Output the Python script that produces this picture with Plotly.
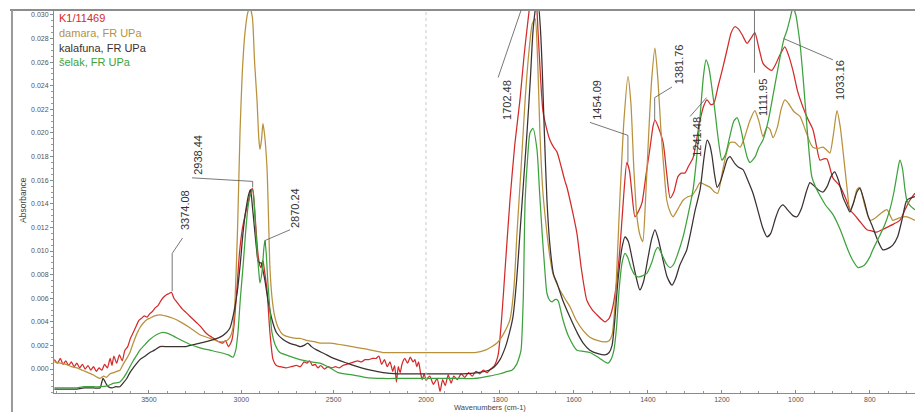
import plotly.graph_objects as go

# ---------------- data (wavenumber cm-1, absorbance) ----------------
k1_wn = [4012,3995,3980,3965,3950,3935,3920,3905,3890,3875,3860,3845,3830,3815,3800,3785,3770,3755,3740,3725,
         3710,3700,3690,3675,3660,3645,3630,3615,3600,3585,3570,3555,3540,3525,3510,3495,3480,3465,3450,3435,
         3420,3405,3390,3378,3365,3350,3335,3320,3300,3280,3260,3240,3220,3200,3180,3160,3140,3120,3100,3085,
         3070,3060,3050,3040,3025,3010,2995,2980,2965,2950,2940,2930,2920,2910,2900,2893,2883,2875,2861,2845,
         2828,2810,2790,2760,2730,2700,2680,2660,2645,2630,2615,2600,2585,2570,2550,2530,2510,2490,2470,2450,
         2430,2410,2390,2370,2350,2330,2310,2290,2270,2255,2240,2225,2210,2195,2180,2170,2160,2150,2140,2130,
         2115,2100,2085,2070,2060,2050,2040,2030,2020,2010,2000,
         1990,1980,1970,1962,1955,1948,1940,1932,1925,1915,1905,1895,1885,1875,1865,1855,1845,1835,1825,1815,
         1805,1795,1785,1773,1760,1746,1735,1724,1712,1704,1697,1690,1684,1675,1665,1655,1646,1635,1625,1619,
         1605,1592,1580,1565,1550,1538,1525,1516,1505,1497,1486,1476,1466,1457,1450,1443,1435,1425,1416,1405,
         1395,1386,1381,1372,1359,1350,1340,1330,1319,1310,1300,1290,1278,1268,1259,1248,1240,1230,1222,1210,
         1197,1185,1175,1165,1155,1145,1132,1120,1111,1100,1089,1077,1065,1055,1045,1030,1020,1008,995,981,
         968,954,945,935,925,916,900,881,862,854,840,827,808,795,781,767,754,735,719,705,692,678]
k1_abs = [0.0008,0.0005,0.0009,0.0004,0.0007,0.0003,0.0006,0.0002,0.0005,0.0001,0.0004,0.0000,0.0003,-0.0001,0.0002,-0.0002,0.0001,-0.0001,0.0004,0.0001,
          0.0009,0.0003,0.0011,0.0005,0.0012,0.0007,0.0016,0.0019,0.0026,0.0031,0.0036,0.0041,0.0043,0.0045,0.0044,0.0047,0.0049,0.0052,0.0054,0.0058,
          0.0061,0.0063,0.0064,0.0065,0.0060,0.0057,0.0054,0.0051,0.0048,0.0045,0.0042,0.0039,0.0036,0.0032,0.0029,0.0027,0.0025,0.0023,0.0022,0.0024,
          0.0019,0.0021,0.0025,0.0036,0.0065,0.0098,0.0118,0.0130,0.0140,0.0150,0.0153,0.0140,0.0118,0.0098,0.0088,0.0086,0.0092,0.0084,0.0067,0.0031,
          0.0008,0.0003,0.0002,0.0001,0.0002,0.0003,0.0002,0.0006,0.0005,0.0007,0.0003,0.0004,0.0001,0.0003,0.0000,0.0002,0.0001,0.0002,0.0001,0.0003,
          0.0004,0.0005,0.0006,0.0007,0.0006,0.0008,0.0008,0.0009,0.0009,0.0011,0.0004,0.0008,0.0002,0.0006,-0.0002,0.0003,-0.0011,0.0002,-0.0003,0.0004,
          0.0009,0.0005,0.0010,0.0006,0.0008,0.0002,0.0006,-0.0003,-0.0009,-0.0004,-0.0010,
          -0.0006,-0.0013,-0.0008,-0.0019,-0.0009,-0.0014,-0.0005,-0.0012,-0.0006,-0.0009,-0.0004,-0.0007,-0.0003,-0.0006,-0.0002,-0.0004,-0.0001,-0.0003,0.0000,0.0003,
          0.0012,0.0045,0.0090,0.0143,0.0190,0.0228,0.0265,0.0296,0.0322,0.0318,0.0285,0.0245,0.0219,0.0205,0.0194,0.0188,0.0184,0.0172,0.0160,0.0154,
          0.0135,0.0115,0.0085,0.0058,0.0050,0.0046,0.0042,0.0040,0.0043,0.0050,0.0070,0.0101,0.0145,0.0175,0.0168,0.0148,0.0129,0.0134,0.0141,0.0165,
          0.0186,0.0206,0.0211,0.0205,0.0192,0.0168,0.0145,0.0150,0.0163,0.0166,0.0166,0.0172,0.0179,0.0195,0.0211,0.0224,0.0228,0.0224,0.0225,0.0240,
          0.0256,0.0272,0.0285,0.0290,0.0288,0.0283,0.0276,0.0281,0.0285,0.0272,0.0259,0.0255,0.0253,0.0258,0.0265,0.0273,0.0266,0.0253,0.0235,0.0222,
          0.0212,0.0203,0.0190,0.0177,0.0178,0.0178,0.0162,0.0155,0.0142,0.0135,0.0130,0.0125,0.0118,0.0117,0.0116,0.0118,0.0120,0.0123,0.0126,0.0135,0.0143,0.0149]

damara_wn = [4012,3980,3950,3920,3890,3860,3830,3800,3780,3765,3745,3730,3710,3690,3675,3657,3640,3620,3603,3585,
             3565,3549,3530,3510,3495,3470,3440,3410,3370,3330,3278,3224,3170,3115,3080,3061,3045,3034,3020,3007,
             2995,2980,2965,2953,2940,2928,2915,2905,2899,2890,2883,2875,2861,2852,2845,2832,2818,2800,2774,2740,
             2700,2682,2640,2600,2574,2520,2476,2400,2330,2233,2150,2108,2050,2000,
             1950,1900,1868,1840,1808,1790,1773,1762,1754,1743,1732,1722,1713,1705,1698,1692,1684,1673,1665,1657,
             1640,1625,1611,1595,1576,1557,1535,1516,1505,1497,1488,1476,1465,1454,1446,1438,1430,1422,1414,1407,
             1400,1390,1381,1373,1365,1357,1349,1340,1332,1320,1305,1292,1281,1270,1259,1245,1232,1220,1211,1200,
             1190,1178,1165,1151,1140,1125,1111,1100,1089,1078,1070,1062,1050,1040,1030,1020,1005,989,975,962,
             954,940,927,915,908,898,889,880,873,862,854,845,835,827,815,800,785,770,754,745,738,720,700,678]
damara_abs = [0.0006,0.0005,0.0004,0.0002,0.0001,-0.0001,-0.0003,-0.0005,-0.0007,-0.0008,-0.0006,-0.0007,-0.0004,-0.0003,-0.0002,-0.0001,0.0004,0.0009,0.0014,0.0022,
              0.0030,0.0035,0.0039,0.0042,0.0043,0.0045,0.0046,0.0045,0.0043,0.0040,0.0035,0.0029,0.0026,0.0023,0.0024,0.0027,0.0035,0.0058,0.0120,0.0200,
              0.0250,0.0285,0.0302,0.0306,0.0298,0.0260,0.0228,0.0195,0.0186,0.0195,0.0208,0.0200,0.0171,0.0125,0.0086,0.0058,0.0044,0.0035,0.0029,0.0027,
              0.0026,0.0026,0.0024,0.0023,0.0022,0.0022,0.0021,0.0019,0.0017,0.0014,0.0014,0.0014,0.0014,0.0014,
              0.0014,0.0014,0.0014,0.0016,0.0022,0.0030,0.0042,0.0070,0.0115,0.0170,0.0228,0.0268,0.0292,0.0297,0.0260,0.0200,0.0150,0.0115,0.0095,0.0081,
              0.0068,0.0060,0.0053,0.0042,0.0033,0.0027,0.0024,0.0023,0.0024,0.0029,0.0060,0.0143,0.0210,0.0248,0.0225,0.0169,0.0130,0.0114,0.0108,0.0140,
              0.0186,0.0245,0.0272,0.0245,0.0203,0.0170,0.0143,0.0133,0.0129,0.0135,0.0143,0.0146,0.0147,0.0152,0.0158,0.0156,0.0154,0.0150,0.0149,0.0165,
              0.0180,0.0192,0.0192,0.0188,0.0195,0.0210,0.0219,0.0210,0.0197,0.0205,0.0203,0.0196,0.0205,0.0220,0.0228,0.0225,0.0218,0.0214,0.0203,0.0192,
              0.0188,0.0187,0.0188,0.0185,0.0183,0.0200,0.0219,0.0205,0.0186,0.0154,0.0135,0.0140,0.0152,0.0154,0.0140,0.0126,0.0128,0.0132,0.0135,0.0130,0.0126,0.0128,0.0129,0.0126]

kalafuna_wn = [4012,3950,3900,3850,3800,3765,3755,3749,3740,3730,3720,3700,3680,3657,3640,3620,3603,3585,3565,3549,
               3520,3495,3470,3440,3400,3348,3300,3278,3224,3170,3115,3080,3061,3040,3023,3005,2991,2975,2960,2950,
               2940,2926,2915,2910,2900,2893,2882,2872,2855,2834,2810,2774,2740,2700,2680,2660,2640,2620,2590,2550,
               2500,2428,2350,2300,2233,2150,2100,2050,2000,
               1950,1900,1860,1830,1815,1800,1785,1775,1765,1755,1746,1736,1727,1718,1711,1704,1697,1691,1686,1680,
               1673,1665,1655,1646,1630,1611,1590,1575,1557,1535,1516,1505,1497,1490,1481,1470,1462,1453,1443,1432,
               1422,1412,1400,1390,1381,1372,1359,1348,1335,1325,1314,1305,1295,1285,1272,1259,1248,1240,1233,1227,
               1220,1213,1205,1195,1185,1178,1165,1155,1143,1130,1116,1105,1090,1078,1068,1055,1045,1035,1020,1008,
               997,985,972,962,950,940,927,915,905,895,885,872,862,854,845,835,827,815,805,792,780,765,752,738,725,712,700,678]
kalafuna_abs = [-0.0017,-0.0017,-0.0017,-0.0016,-0.0016,-0.0016,-0.0011,-0.0008,-0.0010,-0.0013,-0.0015,-0.0016,-0.0015,-0.0015,-0.0012,-0.0008,-0.0003,0.0001,0.0005,0.0008,
                0.0011,0.0014,0.0016,0.0019,0.0019,0.0019,0.0019,0.0020,0.0022,0.0024,0.0027,0.0031,0.0035,0.0048,0.0064,0.0090,0.0115,0.0135,0.0148,0.0152,
                0.0138,0.0115,0.0098,0.0092,0.0090,0.0090,0.0083,0.0075,0.0058,0.0042,0.0031,0.0025,0.0022,0.0020,0.0019,0.0020,0.0022,0.0019,0.0016,0.0013,
                0.0009,0.0005,0.0001,-0.0001,-0.0003,-0.0004,-0.0004,-0.0004,-0.0004,
                -0.0004,-0.0004,-0.0003,-0.0001,0.0002,0.0008,0.0019,0.0030,0.0044,0.0075,0.0115,0.0160,0.0200,0.0245,0.0285,0.0305,0.0310,0.0290,0.0256,0.0200,
                0.0143,0.0105,0.0080,0.0073,0.0058,0.0044,0.0030,0.0022,0.0016,0.0013,0.0012,0.0014,0.0020,0.0040,0.0075,0.0103,0.0112,0.0108,0.0094,0.0078,
                0.0067,0.0074,0.0094,0.0110,0.0118,0.0110,0.0092,0.0078,0.0071,0.0077,0.0088,0.0094,0.0101,0.0115,0.0135,0.0152,0.0180,0.0194,0.0190,0.0181,
                0.0165,0.0154,0.0158,0.0168,0.0178,0.0180,0.0174,0.0171,0.0169,0.0160,0.0149,0.0137,0.0120,0.0112,0.0115,0.0128,0.0136,0.0139,0.0134,0.0130,
                0.0129,0.0136,0.0150,0.0158,0.0155,0.0152,0.0150,0.0155,0.0163,0.0167,0.0160,0.0145,0.0138,0.0133,0.0140,0.0150,0.0153,0.0142,0.0130,0.0120,0.0110,0.0101,0.0102,0.0105,0.0112,0.0128,0.0143,0.0146]

selak_wn = [4012,3950,3900,3850,3800,3765,3720,3690,3657,3640,3620,3603,3585,3565,3549,3520,3495,3460,3424,3380,
            3332,3280,3224,3170,3115,3070,3045,3030,3018,3005,2991,2977,2964,2950,2937,2926,2915,2905,2899,2888,
            2878,2872,2865,2856,2845,2834,2815,2791,2740,2682,2620,2574,2520,2476,2400,2330,2233,2150,2100,2000,
            1950,1900,1868,1830,1800,1780,1768,1755,1748,1743,1737,1732,1725,1719,1711,1700,1693,1686,1679,1673,
            1665,1659,1650,1643,1636,1630,1615,1592,1575,1557,1540,1530,1516,1508,1500,1492,1485,1478,1470,1462,
            1454,1446,1436,1427,1415,1403,1390,1380,1373,1362,1350,1340,1330,1320,1305,1292,1278,1268,1259,1250,
            1243,1235,1227,1219,1210,1200,1190,1178,1168,1159,1150,1140,1130,1124,1110,1100,1089,1075,1060,1043,
            1032,1024,1015,1008,1000,995,989,980,970,957,945,935,920,900,880,862,848,832,815,800,792,775,760,746,
            735,725,719,712,705,700,690,678]
selak_abs = [-0.0016,-0.0016,-0.0016,-0.0015,-0.0015,-0.0015,-0.0014,-0.0012,-0.0011,-0.0008,-0.0003,0.0002,0.0007,0.0012,0.0016,0.0021,0.0025,0.0029,0.0031,0.0029,
             0.0025,0.0021,0.0018,0.0016,0.0014,0.0012,0.0010,0.0016,0.0031,0.0060,0.0086,0.0115,0.0137,0.0148,0.0152,0.0128,0.0101,0.0082,0.0073,0.0082,
             0.0102,0.0109,0.0098,0.0073,0.0050,0.0031,0.0020,0.0014,0.0011,0.0008,0.0006,0.0005,0.0001,-0.0003,-0.0005,-0.0007,-0.0008,-0.0008,-0.0008,-0.0008,
             -0.0008,-0.0008,-0.0008,-0.0006,-0.0004,-0.0002,-0.0001,0.0004,0.0010,0.0016,0.0060,0.0143,0.0180,0.0200,0.0204,0.0186,0.0150,0.0115,0.0085,0.0064,
             0.0058,0.0057,0.0059,0.0058,0.0050,0.0042,0.0028,0.0016,0.0015,0.0014,0.0011,0.0009,0.0006,0.0005,0.0008,0.0016,0.0035,0.0067,0.0090,0.0098,
             0.0094,0.0086,0.0080,0.0078,0.0079,0.0081,0.0090,0.0100,0.0103,0.0097,0.0089,0.0086,0.0089,0.0097,0.0112,0.0130,0.0152,0.0180,0.0214,0.0248,
             0.0262,0.0255,0.0238,0.0219,0.0195,0.0177,0.0182,0.0198,0.0210,0.0213,0.0205,0.0190,0.0178,0.0175,0.0180,0.0188,0.0194,0.0210,0.0235,0.0264,
             0.0280,0.0287,0.0298,0.0306,0.0300,0.0290,0.0276,0.0245,0.0205,0.0163,0.0153,0.0147,0.0139,0.0131,0.0118,0.0103,0.0093,0.0086,0.0088,0.0095,0.0101,0.0112,0.0122,0.0135,
             0.0150,0.0168,0.0177,0.0170,0.0152,0.0143,0.0138,0.0135]

series_names = ["K1/11469", "damara, FR UPa", "kalafuna, FR UPa", "šelak, FR UPa"]
series_colors = ["#d32b2b", "#b8913c", "#3b3131", "#3da23d"]

peak_wn = [3374.08, 2938.44, 2870.24, 1702.48, 1454.09, 1381.76, 1241.48, 1111.95, 1033.16]
peak_labels = ["3374.08", "2938.44", "2870.24", "1702.48", "1454.09", "1381.76", "1241.48", "1111.95", "1033.16"]

y_ticks = [0.000, 0.002, 0.004, 0.006, 0.008, 0.010, 0.012, 0.014, 0.016, 0.018, 0.020,
           0.022, 0.024, 0.026, 0.028, 0.030]
left_ticks = [3500, 3000, 2500]
right_ticks = [2000, 1800, 1600, 1400, 1200, 1000, 800]

# ---------------- figure ----------------
BREAK = 2000
FONT = "Arial, Liberation Sans, sans-serif"
fig = go.Figure()
series = [(k1_wn, k1_abs), (damara_wn, damara_abs), (kalafuna_wn, kalafuna_abs), (selak_wn, selak_abs)]
for (wn, ab), name, col in zip(series, series_names, series_colors):
    lx = [w for w in wn if w >= BREAK]
    ly = [a for w, a in zip(wn, ab) if w >= BREAK]
    rx = [w for w in wn if w <= BREAK]
    ry = [a for w, a in zip(wn, ab) if w <= BREAK]
    fig.add_trace(go.Scatter(x=lx, y=ly, mode="lines", name=name, showlegend=False,
                             line=dict(color=col, width=1.25, shape="spline", smoothing=0.6),
                             xaxis="x", yaxis="y"))
    fig.add_trace(go.Scatter(x=rx, y=ry, mode="lines", name=name, showlegend=False,
                             line=dict(color=col, width=1.25, shape="spline", smoothing=0.6),
                             xaxis="x2", yaxis="y"))

split = (426 - 54) / 861.0
y_common = dict(showline=True, linecolor="#8a8a8a", linewidth=1, showgrid=False, zeroline=False,
                ticks="outside", ticklen=3, tickcolor="#8a8a8a",
                tickfont=dict(family=FONT, size=7, color="#555555"))
x_common = dict(showline=True, linecolor="#8a8a8a", linewidth=1, showgrid=False, zeroline=False,
                ticks="inside", ticklen=3, tickcolor="#8a8a8a",
                tickfont=dict(family=FONT, size=7, color="#555555"))
fig.update_layout(
    width=915, height=412,
    margin=dict(l=54, r=0, t=10, b=19),
    paper_bgcolor="white", plot_bgcolor="white",
    xaxis=dict(domain=[0, split], range=[4014, BREAK], anchor="y", tickvals=left_ticks,
               minor=dict(dtick=100, ticks="inside", ticklen=2, tickcolor="#9a9a9a"), **x_common),
    xaxis2=dict(domain=[split, 1], range=[BREAK, 678], anchor="y", tickvals=right_ticks,
                minor=dict(dtick=50, ticks="inside", ticklen=2, tickcolor="#9a9a9a"), **x_common),
    yaxis=dict(range=[-0.00203, 0.03042], tickvals=y_ticks, tickformat=".3f",
               minor=dict(dtick=0.0005, ticks="outside", ticklen=2, tickcolor="#9a9a9a"), **y_common),
    showlegend=False,
)

# frame lines and scale-break marker
fig.add_shape(type="line", xref="paper", yref="paper", x0=-0.0511, x1=1, y0=1, y1=1,
              line=dict(color="#8c8c8c", width=2))
fig.add_shape(type="line", xref="paper", yref="paper", x0=-0.0488, x1=-0.0488, y0=1, y1=-0.05,
              line=dict(color="#9a9a9a", width=2))
fig.add_shape(type="line", xref="paper", yref="paper", x0=split, x1=split, y0=0, y1=1,
              line=dict(color="#c8c8c8", width=1, dash="dot"))

# legend as coloured text
for i, (name, col) in enumerate(zip(series_names, series_colors)):
    fig.add_annotation(xref="paper", yref="paper", x=0.0035, y=0.979 - i * 0.0385, text=name,
                       showarrow=False, xanchor="left", yanchor="middle",
                       font=dict(family=FONT, size=11, color=col))

# peak labels (rotated) and leader lines
label_pos = [(3305, 0.01347), (3235, 0.01814), (2709, 0.01364), (1781, 0.0228), (1538, 0.0228),
             (1315, 0.02585), (1268, 0.01966), (1089, 0.02305), (881, 0.02449)]
leaders = [
    [(3318, 0.0111), (3374.08, 0.0098), (3374.08, 0.0066)],
    [(3267, 0.0162), (2938.44, 0.0159), (2938.44, 0.0154)],
    [(2736, 0.0118), (2870.24, 0.0109), (2870.24, 0.0105)],
    [(1805, 0.0247), (1743, 0.0304)],
    [(1557, 0.0209), (1454.09, 0.0198), (1454.09, 0.0175)],
    [(1335, 0.0239), (1381.76, 0.0230), (1381.76, 0.0211)],
    [(1286, 0.0214), (1241.48, 0.0230)],
    [(1111.95, 0.0304), (1111.95, 0.0251)],
    [(900, 0.0262), (1033.16, 0.0280)],
]
for wn, txt, (lx, ly), pts in zip(peak_wn, peak_labels, label_pos, leaders):
    xr = "x" if wn >= BREAK else "x2"
    fig.add_annotation(xref=xr, yref="y", x=lx, y=ly, text=txt, textangle=-90, showarrow=False,
                       xanchor="center", yanchor="middle",
                       font=dict(family=FONT, size=11, color="#333333"))
    path = "M " + " L ".join(f"{px},{py}" for px, py in pts)
    fig.add_shape(type="path", xref=xr, yref="y", path=path, line=dict(color="#555555", width=0.8))

# axis titles
fig.add_annotation(xref="paper", yref="paper", x=-0.0441, y=0.504, text="Absorbance", textangle=-90,
                   showarrow=False, font=dict(family=FONT, size=8.5, color="#444444"))
fig.add_annotation(xref="paper", yref="paper", x=0.506, y=-0.0379, text="Wavenumbers (cm-1)",
                   showarrow=False, yanchor="middle", borderpad=0,
                   font=dict(family=FONT, size=7.5, color="#444444"))

# remove the default page margin so the figure sits at the window's top-left corner
fig.write_html("out.html", config={"displayModeBar": False},
               post_script="document.body.style.margin='0';document.body.style.overflow='hidden';")
